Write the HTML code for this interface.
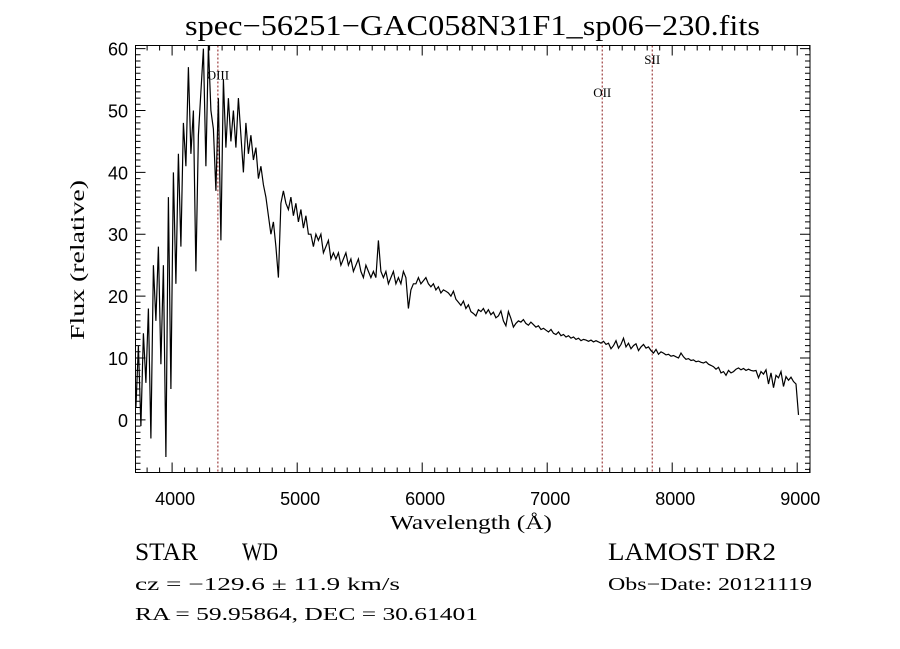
<!DOCTYPE html>
<html><head><meta charset="utf-8"><style>
html,body{margin:0;padding:0;background:#fff;}
svg{display:block;}
.tk{font-family:"Liberation Sans",sans-serif;font-size:18px;fill:#000;}
.sr{font-family:"Liberation Serif",serif;fill:#000;}
</style></head><body>
<svg id="chart" width="900" height="649" viewBox="0 0 900 649" xmlns="http://www.w3.org/2000/svg">
<rect width="900" height="649" fill="#fff"/>
<text x="185" y="35" textLength="575" lengthAdjust="spacingAndGlyphs" class="sr" font-size="28">spec−56251−GAC058N31F1_sp06−230.fits</text>
<g id="axes"></g>
<g id="lines"></g>
<g id="series"></g>
<rect x="135.5" y="45.5" width="674.5" height="427" fill="none" stroke="#000" stroke-width="1"/>
<text x="390" y="529" textLength="162" lengthAdjust="spacingAndGlyphs" class="sr" font-size="20">Wavelength (Å)</text>
<text transform="translate(84,340) rotate(-90)" textLength="160" lengthAdjust="spacingAndGlyphs" class="sr" font-size="20">Flux (relative)</text>
<text x="135" y="560" textLength="63" lengthAdjust="spacingAndGlyphs" class="sr" font-size="25">STAR</text>
<text x="242" y="560" textLength="36" lengthAdjust="spacingAndGlyphs" class="sr" font-size="25">WD</text>
<text x="608" y="560" textLength="168" lengthAdjust="spacingAndGlyphs" class="sr" font-size="25">LAMOST DR2</text>
<text x="135" y="590" textLength="265" lengthAdjust="spacingAndGlyphs" class="sr" font-size="18">cz = −129.6 ± 11.9 km/s</text>
<text x="608" y="590" textLength="204" lengthAdjust="spacingAndGlyphs" class="sr" font-size="18">Obs−Date: 20121119</text>
<text x="135" y="620" textLength="343" lengthAdjust="spacingAndGlyphs" class="sr" font-size="18">RA =  59.95864, DEC =  30.61401</text>
</svg>
<script>
const waveStart = 3710;
const waveStep = 20;
const flux = [
2,12,-1,14,6,18,-3,25,16,28,
9,25,-6,36,5,40,22,43,28,48,
41,57,43,50,24,46,53,60,41,61,
50,47,37,52,29,55,44,52,45,50,
44,52,46,40,48,43,46,42,44,39,
41,38,36,33,30,
32,28,23,35,37,35,34,36,33,35,
32,34,31,33,30,30,28,30,29,30,
27,28,29,26,27,26,27,25,26,27,
25,26,24,25,26,24,23,25,24,23,
24,23,29,24,23,24,22,23,24,22,
23,22,24,23,18,21,22,22,23,22,
22.5,23,22,21.5,22,21,21.5,20.5,21,20.8,
20.5,20,20.8,19.5,19,18.5,19.2,18,18.6,17.5,
17.2,16.8,17.8,17.5,18,17.2,17.8,17,17.4,16.5,
16.8,17.6,16,15.2,17.5,16.4,15,15.6,16,15.8,
16.2,15.6,15.3,15.8,15.4,15,15.2,14.6,14.8,14.5,
14.2,14.6,14,13.8,14.2,13.6,13.8,13.4,13.6,13.2,
13.4,13,13.2,12.8,13,12.9,12.7,12.9,12.6,12.8,
12.6,12.4,12.7,12.2,12.4,11.5,12,12.8,11.6,12.2,
13.2,11.8,12.4,11.5,12,12.3,11.2,11.8,12.2,11.6,
11.8,11.2,10.8,11.4,10.6,11,10.8,10.5,10.6,10.3,
10.4,10.2,10,10.8,10.2,9.8,9.9,9.6,9.7,9.4,
9.5,9.3,9.2,9.4,9,8.8,8.6,8.2,8.5,7.6,
7.8,7.2,8,7.6,7.8,8.2,8.4,8.1,8.3,8,
8.2,8,7.9,8,6.8,7.8,7.4,8.1,5.8,7.6,
5.2,7.2,6.8,7.8,5.4,7,6.4,6.9,6.2,5.8,
0.8
];
const xTicks = [4000,5000,6000,7000,8000,9000];
const yTicks = [0,10,20,30,40,50,60];
const lineNames = ["OIII","OII","SII"];
const lineWaves = [4366,7440,7840];
const lineLabelFlux = [55,52.2,57.5];

const X0=135.5, X1=810, Y0=472.5, Y1=45.5;
const xMin=3707, xMax=9102, yMin=-8.5, yMax=60.5;
const sx = w => X0 + (w-xMin)/(xMax-xMin)*(X1-X0);
const sy = f => Y0 - (f-yMin)/(yMax-yMin)*(Y0-Y1);
const NS="http://www.w3.org/2000/svg";
function mk(tag, parent, attrs){const e=document.createElementNS(NS,tag);for(const k in attrs)e.setAttribute(k,attrs[k]);parent.appendChild(e);return e;}

const axes=document.getElementById('axes');
let d="";
for(let w=3800; w<=9100; w+=100){
  const x=sx(w).toFixed(1); const big = w%1000===0; const L = big?10:5;
  d+=`M${x} ${Y0}V${Y0-L}M${x} ${Y1}V${Y1+L}`;
}
for(let f=-8; f<=60; f+=1){
  const y=sy(f).toFixed(1); const big = f%10===0; const L = big?10:5;
  d+=`M${X0} ${y}H${X0+L}M${X1} ${y}H${X1-L}`;
}
const tp=mk('path',axes,{d:d,stroke:'#000','stroke-width':1,fill:'none'});


xTicks.forEach(v=>{
  const t=mk('text',axes,{x:sx(v)+3,y:505,'text-anchor':'middle',class:'tk'});
  t.textContent=v;
  
  
});
yTicks.forEach(v=>{
  const t=mk('text',axes,{x:128,y:sy(v)+7,'text-anchor':'end',class:'tk'});
  t.textContent=v;
  
  
});

const lg=document.getElementById('lines');
lineNames.forEach((n,i)=>{
  const x=sx(lineWaves[i]);
  const l=mk('line',lg,{x1:x,x2:x,y1:Y1,y2:Y0,stroke:'#8b1a1a','stroke-width':1,'stroke-dasharray':'2,2'});
  
  
  const t=mk('text',lg,{x:x,y:sy(lineLabelFlux[i]),'text-anchor':'middle',class:'sr','font-size':'13'});
  t.textContent=n;
  
  
});

const sg=document.getElementById('series');
let pts=[];
flux.forEach((f,i)=>{
  const w = waveStart + i*waveStep;
  const x = sx(w); const y = Math.max(Y1, Math.min(Y0, sy(f)));
  pts.push(x.toFixed(1)+','+y.toFixed(1));
});
const pl=mk('polyline',sg,{points:pts.join(' '),fill:'none',stroke:'#000','stroke-width':1.2});


</script>
</body></html>
